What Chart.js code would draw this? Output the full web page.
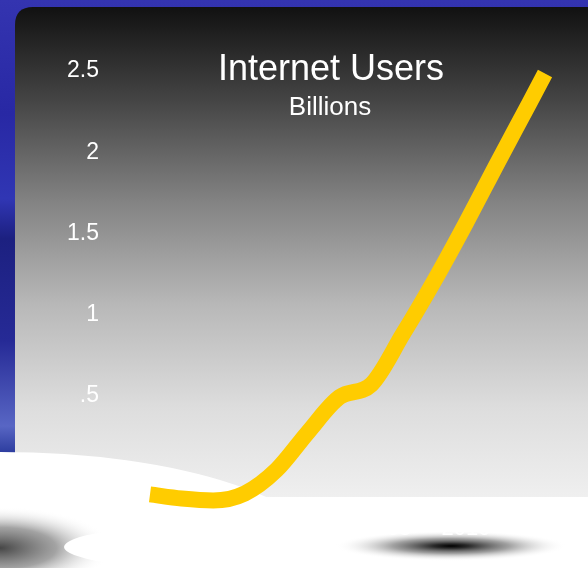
<!DOCTYPE html>
<html>
<head>
<meta charset="utf-8">
<script src="https://cdn.jsdelivr.net/npm/chart.js@4.4.0/dist/chart.umd.min.js"></script>
<style>
  html, body { margin: 0; padding: 0; background: #2424a0; }
</style>
</head>
<body>
<canvas id="myChart" width="588" height="568"></canvas>
<script>
// values (billions of users)
const years = [1990, 1992, 1994, 1996, 1998, 2000, 2002, 2004, 2006, 2008, 2010, 2012, 2014, 2015];
const users = [-0.106, -0.131, -0.143, -0.1, 0.044, 0.277, 0.493, 0.57, 0.88, 1.21, 1.565, 1.936, 2.3, 2.485];
const yTicks = [0.5, 1, 1.5, 2, 2.5];
const yTickLabels = ['.5', '1', '1.5', '2', '2.5'];
const xTicks = [1990, 1995, 2000, 2005, 2010];
const titleText = 'Internet Users';
const subtitleText = 'Billions';

// slide background: blue, rounded grey panel, white "floor" and shadows
const backdrop = {
  id: 'backdrop',
  beforeDraw(chart) {
    const ctx = chart.ctx;
    const w = chart.width, h = chart.height;
    ctx.save();
    let g = ctx.createLinearGradient(0, 0, 0, h);
    g.addColorStop(0, '#3434b0');
    g.addColorStop(0.2, '#2828a4');
    g.addColorStop(0.35, '#3036b4');
    g.addColorStop(0.42, '#1c2080');
    g.addColorStop(0.6, '#262a96');
    g.addColorStop(0.75, '#5866c4');
    g.addColorStop(0.8, '#2a3a9c');
    g.addColorStop(1, '#1a2070');
    ctx.fillStyle = g;
    ctx.fillRect(0, 0, w, h);

    // panel
    const x0 = 15, y0 = 7, r = 18;
    ctx.beginPath();
    ctx.moveTo(x0, h + 10);
    ctx.lineTo(x0, y0 + r);
    ctx.quadraticCurveTo(x0, y0, x0 + r, y0);
    ctx.lineTo(w + 10, y0);
    ctx.lineTo(w + 10, h + 10);
    ctx.closePath();
    g = ctx.createLinearGradient(0, y0, 0, 520);
    g.addColorStop(0, '#111111');
    g.addColorStop(0.18, '#444444');
    g.addColorStop(0.38, '#838383');
    g.addColorStop(0.58, '#b8b8b8');
    g.addColorStop(0.78, '#dddddd');
    g.addColorStop(1, '#f4f4f4');
    ctx.fillStyle = g;
    ctx.fill();

    // white floor
    ctx.fillStyle = '#ffffff';
    ctx.beginPath();
    ctx.ellipse(0, 562, 330, 110, 0, 0, Math.PI * 2);
    ctx.fill();
    ctx.fillRect(230, 497, w, h);

    // left shadow
    ctx.save();
    ctx.translate(0, 548);
    ctx.scale(1.5, 0.55);
    g = ctx.createRadialGradient(0, 0, 0, 0, 0, 75);
    g.addColorStop(0, 'rgba(70,70,70,1)');
    g.addColorStop(0.5, 'rgba(140,140,140,0.8)');
    g.addColorStop(1, 'rgba(255,255,255,0)');
    ctx.fillStyle = g;
    ctx.beginPath();
    ctx.arc(0, 0, 75, 0, Math.PI * 2);
    ctx.fill();
    ctx.restore();

    ctx.fillStyle = '#ffffff';
    ctx.beginPath();
    ctx.ellipse(197, 547, 133, 21, 0, 0, Math.PI * 2);
    ctx.fill();

    // right shadow
    ctx.save();
    ctx.translate(451, 546);
    ctx.scale(1, 15 / 116);
    g = ctx.createRadialGradient(0, 0, 0, 0, 0, 116);
    g.addColorStop(0, 'rgba(0,0,0,1)');
    g.addColorStop(0.15, 'rgba(30,30,30,0.95)');
    g.addColorStop(0.5, 'rgba(110,110,110,0.65)');
    g.addColorStop(1, 'rgba(255,255,255,0)');
    ctx.fillStyle = g;
    ctx.beginPath();
    ctx.arc(0, 0, 116, 0, Math.PI * 2);
    ctx.fill();
    ctx.restore();
    ctx.restore();
  }
};

// title sits inside the plot area, so it is drawn by hand
const headings = {
  id: 'headings',
  beforeDatasetsDraw(chart) {
    const ctx = chart.ctx;
    ctx.save();
    ctx.fillStyle = '#ffffff';
    ctx.textAlign = 'center';
    ctx.textBaseline = 'alphabetic';
    ctx.font = '36px "Liberation Sans", Arial, sans-serif';
    ctx.fillText(titleText, 331, 80);
    ctx.font = '26px "Liberation Sans", Arial, sans-serif';
    ctx.fillText(subtitleText, 330, 115);
    ctx.restore();
  }
};

new Chart(document.getElementById('myChart'), {
  type: 'line',
  data: {
    datasets: [{
      label: titleText,
      data: years.map((yr, i) => ({ x: yr, y: users[i] })),
      borderColor: '#ffcc00',
      borderWidth: 16,
      borderCapStyle: 'butt',
      pointRadius: 0,
      fill: false,
      cubicInterpolationMode: 'monotone',
      clip: false
    }]
  },
  options: {
    responsive: false,
    animation: false,
    layout: { padding: { top: 71, right: 43, bottom: 0, left: 0 } },
    scales: {
      x: {
        type: 'linear',
        min: 1990,
        max: 2015,
        grid: { display: false, drawTicks: false },
        border: { display: false },
        afterBuildTicks: (s) => { s.ticks = xTicks.map(v => ({ value: v })); },
        afterFit: (s) => { s.height = 58; },
        ticks: {
          color: '#ffffff',
          padding: 13,
          maxRotation: 0,
          autoSkip: false,
          font: { family: '"Liberation Sans", Arial, sans-serif', size: 22 },
          callback: (v) => String(v)
        }
      },
      y: {
        min: -0.16,
        max: 2.5,
        grid: { display: false, drawTicks: false },
        border: { display: false },
        afterBuildTicks: (s) => { s.ticks = yTicks.map(v => ({ value: v })); },
        afterFit: (s) => { s.width = 150; },
        ticks: {
          color: '#ffffff',
          padding: 51,
          font: { family: '"Liberation Sans", Arial, sans-serif', size: 23 },
          callback: (v) => yTickLabels[yTicks.indexOf(v)]
        }
      }
    },
    plugins: {
      legend: { display: false },
      tooltip: { enabled: false },
      title: { display: false }
    }
  },
  plugins: [backdrop, headings]
});
</script>
</body>
</html>
